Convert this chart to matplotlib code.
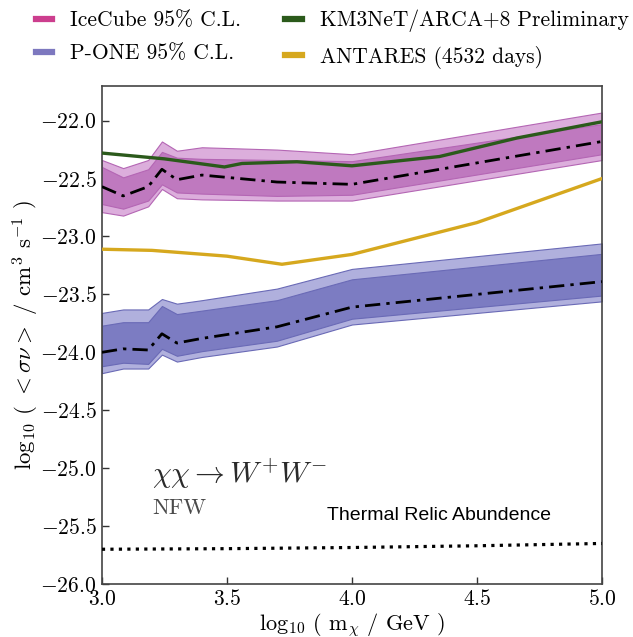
import matplotlib
matplotlib.use("Agg")
import matplotlib.pyplot as plt
from matplotlib.lines import Line2D

plt.rcParams.update({
    "font.family": "serif",
    "font.serif": ["cmr10"],
    "mathtext.fontset": "cm",
    "axes.formatter.use_mathtext": True,
})

# ---------------- data ----------------
mass = [3.0, 3.085, 3.185, 3.24, 3.30, 3.40, 3.70, 4.0, 5.0]

ic_light_top = [-22.34, -22.41, -22.34, -22.18, -22.26, -22.23, -22.25, -22.29, -21.93]
ic_dark_top = [-22.40, -22.49, -22.42, -22.27, -22.32, -22.33, -22.34, -22.35, -22.03]
ic_median = [-22.57, -22.65, -22.57, -22.42, -22.51, -22.47, -22.53, -22.55, -22.18]
ic_dark_bot = [-22.72, -22.76, -22.69, -22.55, -22.62, -22.63, -22.65, -22.64, -22.29]
ic_light_bot = [-22.79, -22.82, -22.74, -22.59, -22.67, -22.68, -22.69, -22.69, -22.34]

po_light_top = [-23.66, -23.63, -23.63, -23.54, -23.58, -23.55, -23.45, -23.28, -23.06]
po_dark_top = [-23.77, -23.74, -23.74, -23.60, -23.67, -23.64, -23.55, -23.37, -23.15]
po_median = [-24.00, -23.97, -23.98, -23.84, -23.92, -23.88, -23.78, -23.61, -23.39]
po_dark_bot = [-24.12, -24.09, -24.10, -23.97, -24.03, -23.99, -23.90, -23.71, -23.51]
po_light_bot = [-24.18, -24.14, -24.14, -24.02, -24.08, -24.04, -23.95, -23.76, -23.56]

km3_mass = [3.0, 3.25, 3.49, 3.56, 3.78, 4.0, 4.35, 4.66, 5.0]
km3_sv = [-22.28, -22.33, -22.40, -22.37, -22.355, -22.39, -22.31, -22.15, -22.01]

ant_mass = [3.0, 3.2, 3.5, 3.72, 4.0, 4.5, 5.0]
ant_sv = [-23.11, -23.12, -23.17, -23.24, -23.155, -22.88, -22.50]

relic_mass = [3.0, 3.5, 4.0, 4.5, 5.0]
relic_sv = [-25.70, -25.695, -25.685, -25.67, -25.65]

legend_labels = ["IceCube 95% C.L.", "P-ONE 95% C.L.",
                 "KM3NeT/ARCA+8 Preliminary", "ANTARES (4532 days)"]

# ---------------- figure ----------------
fig = plt.figure(figsize=(6.33, 6.37), dpi=100)
ax = fig.add_axes([0.161, 0.0832, 0.790, 0.782])

ic_light, ic_dark, ic_edge = "#dcaedc", "#bf79bf", "#b466b4"
po_light, po_dark, po_edge = "#b0b0dd", "#7c7cc2", "#6a6ab6"

ax.fill_between(mass, ic_light_bot, ic_light_top, facecolor=ic_light,
                edgecolor=ic_edge, linewidth=0.8, zorder=1)
ax.fill_between(mass, ic_dark_bot, ic_dark_top, facecolor=ic_dark,
                edgecolor=ic_edge, linewidth=0.8, zorder=2)
ax.plot(mass, ic_median, color="black", linestyle=(0, (5.5, 2.2, 1.2, 2.2)),
        linewidth=2.0, zorder=4)

ax.fill_between(mass, po_light_bot, po_light_top, facecolor=po_light,
                edgecolor=po_edge, linewidth=0.8, zorder=1)
ax.fill_between(mass, po_dark_bot, po_dark_top, facecolor=po_dark,
                edgecolor=po_edge, linewidth=0.8, zorder=2)
ax.plot(mass, po_median, color="black", linestyle=(0, (5.5, 2.2, 1.2, 2.2)),
        linewidth=2.0, zorder=4)

green = "#2b5a1b"
yellow = "#d6a81e"
ax.plot(km3_mass, km3_sv, color=green, linewidth=2.4, zorder=3)
ax.plot(ant_mass, ant_sv, color=yellow, linewidth=2.4, zorder=3)
ax.plot(relic_mass, relic_sv, color="black", linestyle=":", linewidth=2.3, zorder=3)

ax.text(3.90, -25.41, "Thermal Relic Abundence", family="Liberation Sans",
        fontsize=14, va="center", ha="left", color="black")
ax.text(3.20, -25.13, r"$\chi\chi \rightarrow W^{+}W^{-}$", fontsize=21.5,
        va="baseline", ha="left", color="#2a2a2a")
ax.text(3.20, -25.40, "NFW", fontsize=16, va="baseline", ha="left", color="#4a4a4a")

ax.set_xlim(3.0, 5.0)
ax.set_ylim(-26.0, -21.7)
ax.set_xticks([3.0, 3.5, 4.0, 4.5, 5.0])
ax.set_yticks([-26.0, -25.5, -25.0, -24.5, -24.0, -23.5, -23.0, -22.5, -22.0])
ax.tick_params(direction="in", length=5, width=1, labelsize=15.5, pad=3.8,
               top=False, right=False, color="#333333")
for s in ax.spines.values():
    s.set_color("#444444")
    s.set_linewidth(1.2)

ax.set_xlabel(r"log$_{10}$ ( m$_{\chi}$ / GeV )", fontsize=16, labelpad=1)
ax.set_ylabel(r"log$_{10}$ ( $<\sigma\nu>$ / cm$^{3}$ s$^{-1}$ )", fontsize=16.5, labelpad=-0.5)

handles = [Line2D([], [], color="#cc3e8e", linewidth=4.5),
           Line2D([], [], color="#7d78bf", linewidth=4.5),
           Line2D([], [], color=green, linewidth=4.5),
           Line2D([], [], color=yellow, linewidth=4.5)]
fig.legend(handles, legend_labels, ncol=2, loc="upper left",
           bbox_to_anchor=(0.057, 0.985), frameon=False, fontsize=15.5,
           handlelength=0.75, handletextpad=0.84, columnspacing=2.05,
           labelspacing=0.63, borderpad=0.0, borderaxespad=0.0)

fig.savefig("out.png", dpi=100)
